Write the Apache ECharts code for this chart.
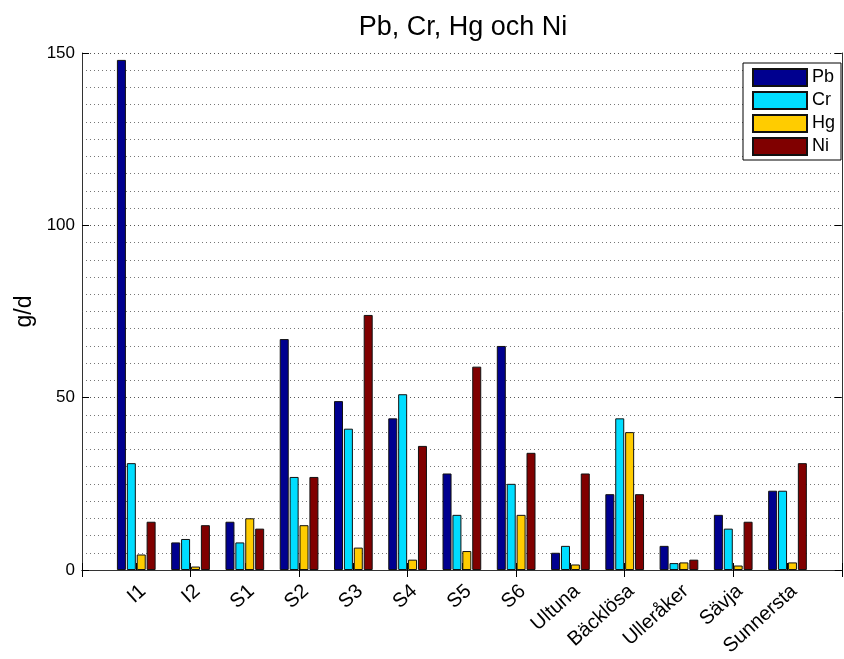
<!DOCTYPE html>
<html>
<head>
<meta charset="utf-8">
<script src="https://cdn.jsdelivr.net/npm/echarts@6/dist/echarts.min.js"></script>
<style>
html,body{margin:0;padding:0;background:#fff;}
#chart{width:844px;height:659px;}
</style>
</head>
<body>
<div id="chart"></div>
<script>
const titleText = 'Pb, Cr, Hg och Ni';
const yName = 'g/d';
const categories = ['I1','I2','S1','S2','S3','S4','S5','S6','Ultuna','Bäcklösa','Ulleråker','Sävja','Sunnersta'];
const seriesNames = ['Pb','Cr','Hg','Ni'];
const pb = [148, 8, 14, 67, 49, 44, 28, 65, 5, 22, 7, 16, 23];
const cr = [31, 9, 8, 27, 41, 51, 16, 25, 7, 44, 2, 12, 23];
const hg = [4.5, 1, 15, 13, 6.5, 3, 5.5, 16, 1.6, 40, 2.2, 1.3, 2.2];
const ni = [14, 13, 12, 27, 74, 36, 59, 34, 28, 22, 3, 14, 31];
const yTicks = [0, 50, 100, 150];
const colors = ['#00008F', '#00DDFF', '#FFCC00', '#800000'];

const FONT = 'Liberation Sans, Arial, Helvetica, sans-serif';
// pad both ends so ticks sit at 1..13 of a 0..14 range (MATLAB-style limits)
const xData = [''].concat(categories, ['']);
const pad = arr => ['-'].concat(arr, ['-']);
const values = [pb, cr, hg, ni];

const chart = echarts.init(document.getElementById('chart'), null, {renderer: 'canvas'});
const yMin = yTicks[0], yMax = yTicks[yTicks.length - 1], yStep = yTicks[1] - yTicks[0];

const option = {
  backgroundColor: '#fff',
  animation: false,
  title: {
    text: titleText,
    left: 463,
    top: 14,
    textAlign: 'center',
    padding: 0,
    textStyle: {fontFamily: FONT, fontSize: 27, fontWeight: 'normal', color: '#000'}
  },
  legend: {
    data: seriesNames,
    orient: 'vertical',
    left: 743,
    top: 63,
    itemWidth: 54,
    itemHeight: 17,
    itemGap: 4,
    padding: [5, 6, 4, 9],
    borderColor: '#000',
    borderWidth: 1,
    backgroundColor: '#fff',
    icon: 'rect',
    textStyle: {fontFamily: FONT, fontSize: 18, lineHeight: 17, color: '#000'}
  },
  grid: {left: 82, right: 1, top: 53, bottom: 89, show: false},
  xAxis: [{
    type: 'category',
    data: xData,
    boundaryGap: false,
    position: 'bottom',
    axisLine: {show: true, lineStyle: {color: '#333', width: 1}},
    axisTick: {show: true, inside: true, length: 7, lineStyle: {color: '#000'}},
    axisLabel: {
      interval: 0, rotate: 42, align: 'right', verticalAlign: 'top', margin: 11,
      fontFamily: FONT, fontSize: 20, color: '#000'
    },
    splitLine: {show: false}
  }, {
    type: 'category',
    data: xData,
    boundaryGap: false,
    position: 'top',
    axisLine: {show: true, lineStyle: {color: '#333', width: 1}},
    axisTick: {show: true, inside: true, length: 7, lineStyle: {color: '#000'}},
    axisLabel: {show: false},
    splitLine: {show: false}
  }],
  yAxis: [{
    type: 'value',
    min: yMin, max: yMax, interval: yStep,
    name: yName,
    nameLocation: 'middle',
    nameGap: 43,
    nameRotate: 90,
    nameTextStyle: {fontFamily: FONT, fontSize: 23, color: '#000'},
    axisLine: {show: true, lineStyle: {color: '#333', width: 1}},
    axisTick: {show: true, inside: true, length: 7, lineStyle: {color: '#000'}},
    axisLabel: {margin: 7, fontFamily: FONT, fontSize: 17, color: '#000'},
    splitLine: {show: true, lineStyle: {color: '#555', type: [1, 3], width: 1}},
    minorTick: {show: false, splitNumber: 10},
    minorSplitLine: {show: true, lineStyle: {color: '#777', type: [1, 3], width: 1}}
  }, {
    type: 'value',
    min: yMin, max: yMax, interval: yStep,
    position: 'right',
    axisLine: {show: true, lineStyle: {color: '#333', width: 1}},
    axisTick: {show: true, inside: true, length: 7, lineStyle: {color: '#000'}},
    axisLabel: {show: false},
    splitLine: {show: false}
  }],
  series: seriesNames.map((name, i) => ({
    name: name,
    type: 'bar',
    xAxisIndex: 0,
    yAxisIndex: 0,
    data: pad(values[i]),
    barWidth: 9,
    barGap: '10%',
    itemStyle: {color: colors[i], borderColor: '#111', borderWidth: 1}
  }))
};
chart.setOption(option);
</script>
</body>
</html>
